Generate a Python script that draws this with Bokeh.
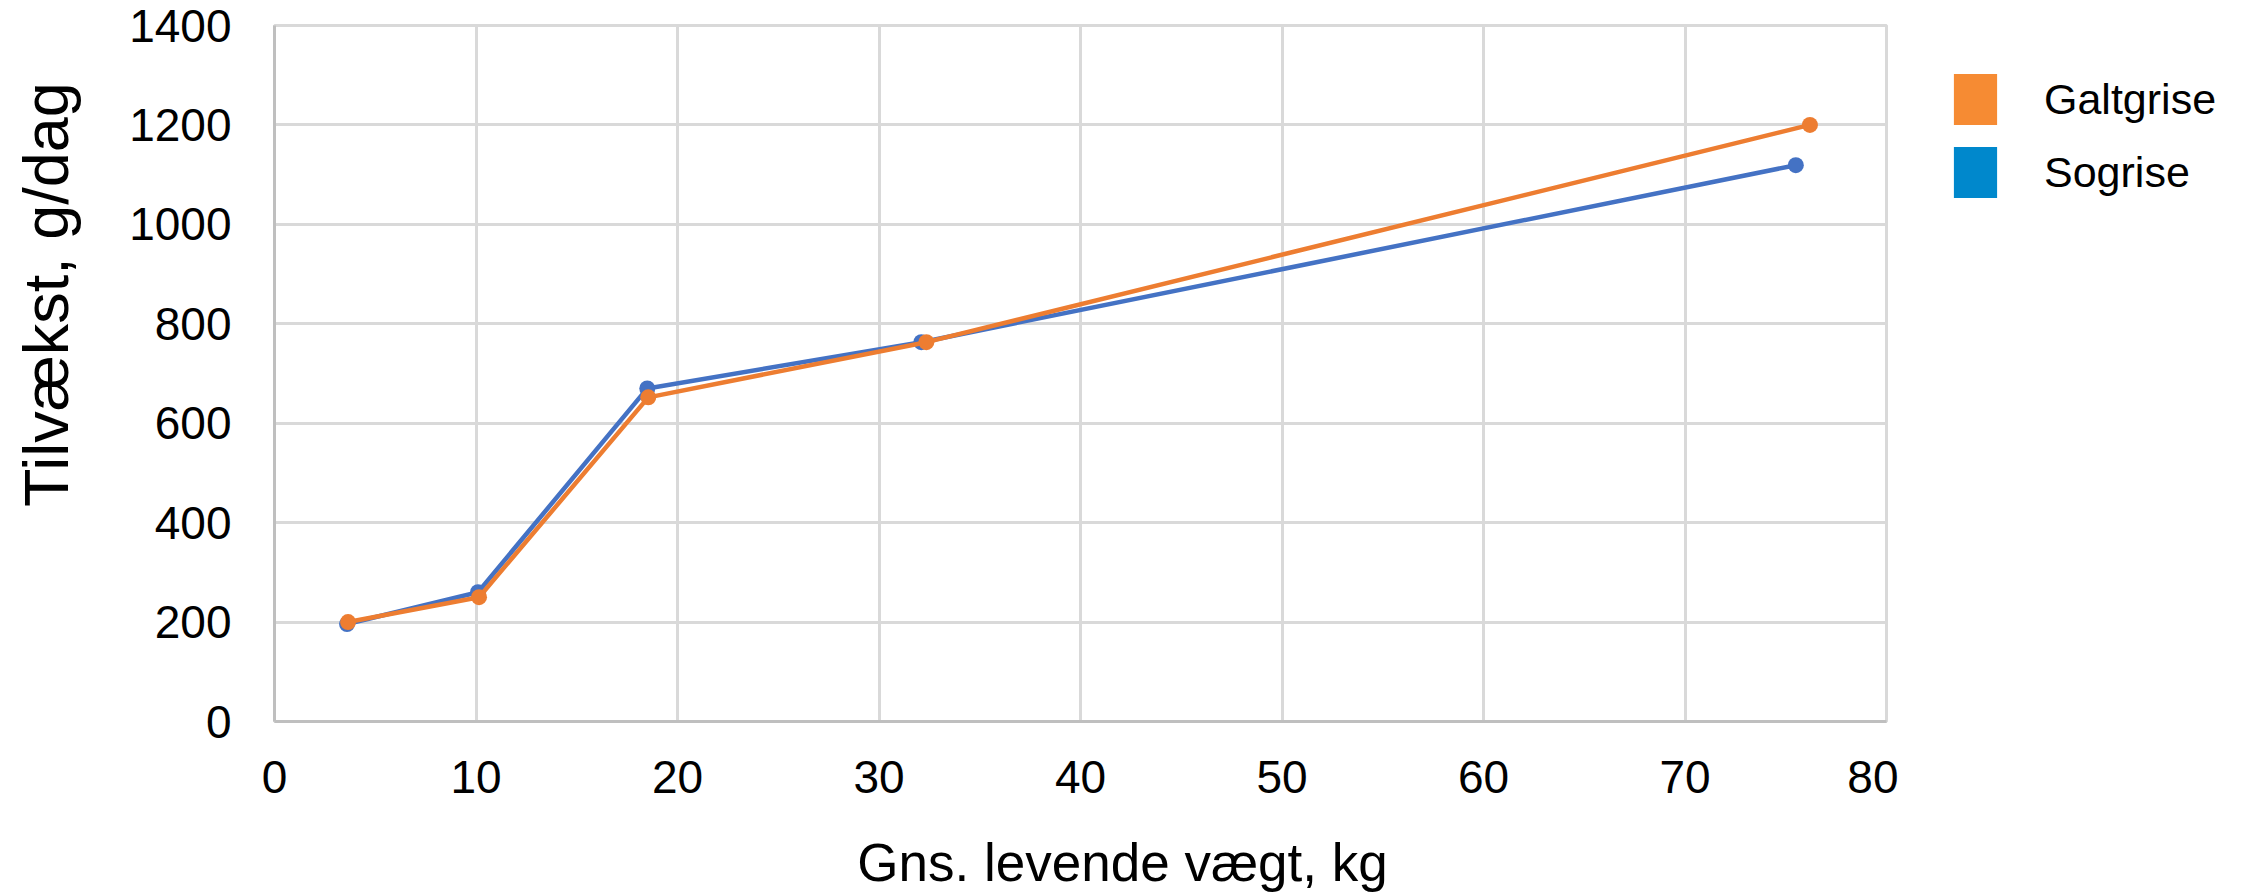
import math
from bokeh.plotting import figure
from bokeh.layouts import row, column
from bokeh.models import Range1d, FixedTicker, Legend, LegendItem, Label
from bokeh.embed import file_html
from bokeh.resources import INLINE

# ---- data ----
series_names = ["Galtgrise", "Sogrise"]
galt_x = [3.65, 10.15, 18.55, 32.35, 76.2]
galt_y = [200, 250, 652, 763, 1200]
so_x = [3.6, 10.1, 18.5, 32.1, 75.5]
so_y = [196, 260, 670, 763, 1119]
x_ticks = [0, 10, 20, 30, 40, 50, 60, 70, 80]
y_ticks = [0, 200, 400, 600, 800, 1000, 1200, 1400]
x_title = "Gns. levende vægt, kg"
y_title = "Tilvækst, g/dag"

line_orange = "#ED7D31"
line_blue = "#4472C4"
leg_orange = "#F68B33"
leg_blue = "#0088CC"
grid_col = "#D9D9D9"
axis_col = "#BFBFBF"
FONT = "Liberation Sans"

W_TOTAL = 2261
W_YT = 90            # strip holding the y-axis title
W_MAIN = 1898 - W_YT # main plot canvas
H_TOP = 820
H_XT = 896 - H_TOP   # strip holding the x-axis title
B_TOP = 25
B_BOTTOM = 99
FRAME_BOTTOM = H_TOP - B_BOTTOM  # row children share the plot frame's vertical extent


def blank(width, height, **kw):
    f = figure(width=width, height=height, output_backend="svg", toolbar_location=None,
               x_axis_type=None, y_axis_type=None, x_range=Range1d(0, 1),
               y_range=Range1d(0, 1), **kw)
    f.outline_line_color = None
    f.grid.visible = False
    return f


p = figure(width=W_MAIN, height=H_TOP, output_backend="svg", toolbar_location=None,
           x_range=Range1d(0, 80), y_range=Range1d(0, 1400),
           min_border_left=274 - W_YT, min_border_right=12, min_border_top=B_TOP,
           min_border_bottom=B_BOTTOM)

p.background_fill_color = "white"
p.border_fill_color = "white"
p.outline_line_color = grid_col
p.outline_line_width = 3

for ax in (p.xaxis[0], p.yaxis[0]):
    ax.axis_line_color = axis_col
    ax.axis_line_width = 3
    ax.major_tick_line_color = None
    ax.minor_tick_line_color = None
    ax.major_label_text_font = FONT
    ax.major_label_text_color = "black"

p.xaxis.ticker = FixedTicker(ticks=x_ticks)
p.yaxis.ticker = FixedTicker(ticks=y_ticks)
p.xaxis.major_label_text_font_size = "46px"
p.yaxis.major_label_text_font_size = "46px"
p.xaxis.major_label_standoff = 33
p.yaxis.major_label_standoff = 37

p.xgrid.ticker = FixedTicker(ticks=x_ticks)
p.ygrid.ticker = FixedTicker(ticks=y_ticks)
p.grid.grid_line_color = grid_col
p.grid.grid_line_width = 3

# series
p.line(so_x, so_y, line_color=line_blue, line_width=4.5)
p.scatter(so_x, so_y, size=16, fill_color=line_blue, line_color=None)
p.line(galt_x, galt_y, line_color=line_orange, line_width=4.5)
p.scatter(galt_x, galt_y, size=16, fill_color=line_orange, line_color=None)

# ---- y-axis title strip (frame aligned with the plot frame) ----
pyt = blank(W_YT, H_TOP, min_border_left=0, min_border_right=0,
            min_border_top=B_TOP, min_border_bottom=B_BOTTOM)
pyt.add_layout(Label(x=45, y=FRAME_BOTTOM - 294, x_units="screen", y_units="screen",
                     text=y_title, angle=math.pi / 2, text_align="center",
                     text_baseline="middle", text_font=FONT, text_font_size="63px",
                     text_color="black"))

# ---- legend panel (separate canvas to the right of the plot) ----
pl = blank(W_TOTAL - W_YT - W_MAIN, H_TOP, min_border_left=0, min_border_right=0,
           min_border_top=B_TOP, min_border_bottom=B_BOTTOM)
# zero-size rects: only supply legend swatch styling
sw_g = pl.rect(x=[0.5], y=[0.5], width=0, height=0, fill_color=leg_orange, line_color=None)
sw_s = pl.rect(x=[0.5], y=[0.5], width=0, height=0, fill_color=leg_blue, line_color=None)
legend = Legend(items=[LegendItem(label=series_names[0], renderers=[sw_g]),
                       LegendItem(label=series_names[1], renderers=[sw_s])],
                location=(50, 517), orientation="vertical",
                glyph_width=54, glyph_height=64, spacing=9, padding=0, margin=0,
                label_standoff=42, label_text_font=FONT, label_text_font_size="43px",
                label_text_color="black", border_line_color=None,
                background_fill_alpha=0)
pl.add_layout(legend, "center")

# ---- x-axis title strip ----
pxt = blank(W_TOTAL, H_XT, min_border=0)
pxt.add_layout(Label(x=1122, y=H_XT - (862 - H_TOP), x_units="screen", y_units="screen",
                     text=x_title, text_align="center", text_baseline="middle",
                     text_font=FONT, text_font_size="53px", text_color="black"))

layout = column(row(pyt, p, pl, spacing=0), pxt, spacing=0)
open("out.html", "w").write(file_html(layout, INLINE))
